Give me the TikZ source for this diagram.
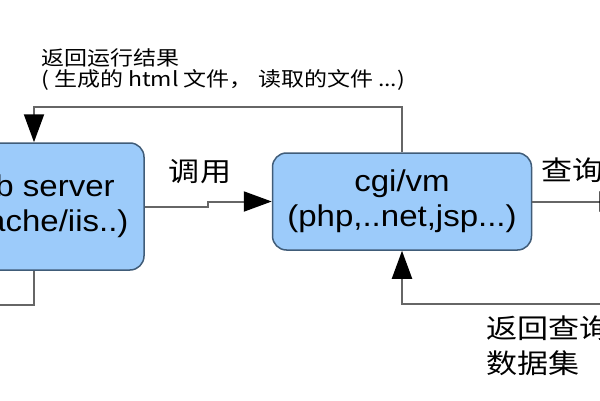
\documentclass[tikz,border=0pt]{standalone}
\usepackage{fontspec}
\setmainfont{Liberation Sans}[FakeStretch=1.1]
\newfontfamily\cjk{Noto Sans CJK SC}[FakeStretch=1.15]
\usetikzlibrary{arrows.meta, positioning, calc}

\definecolor{boxfill}{HTML}{9CCBFA}
\definecolor{boxline}{HTML}{405C78}
\definecolor{lineclr}{HTML}{666666}

\begin{document}
\begin{tikzpicture}[x=1pt,y=1pt,>={Triangle[length=28pt,width=20pt,color=black]},
  block/.style={draw=boxline,line width=1.5pt,fill=boxfill,rounded corners=14pt,align=center,inner sep=0pt,font=\fontsize{30}{35}\selectfont},
  flow/.style={draw=lineclr,line width=2pt,->},
  lbl/.style={font=\cjk\fontsize{27}{35}\selectfont,align=left,inner sep=0pt}]
  \useasboundingbox (0,0) rectangle (600,400);
  \clip (0,0) rectangle (600,400);

  \node[block,minimum width=220pt,minimum height=127pt] (web) at (34,193.5) {web server\\(apache/iis..)};
  \node[block,minimum width=259pt,minimum height=97pt,right=127pt of web,yshift=5pt] (cgi) {cgi/vm\\(php,..net,jsp...)};
  \coordinate[right=95pt of cgi.east] (db);
  \coordinate (dbret) at (625,96);
  \coordinate (client) at (-45,95);

  % calls
  \draw[flow] (web.east) -| ($(web.east)!.5!(cgi.west)$) |- (cgi.west);
  \node[lbl] (calllbl) at (200,228) {调用};
  \draw[flow] (cgi.east) -- (db);
  \node[lbl,anchor=west] (querylbl) at (541,230) {查询};

  % results back
  \draw[flow] (dbret) -| (cgi.south);
  \node[lbl,anchor=north west] (retlbl) at (486,84) {返回查询\\数据集};
  \draw[flow] (cgi.north) -- ++(0,45) -| (web.north);
  \node[lbl,font=\cjk\fontsize{20}{21.5}\selectfont,anchor=north west] (runlbl) at (41,352) {返回运行结果\\( 生成的 html 文件，\ 读取的文件 ...)};
  \draw[flow] (web.south) |- (client);
\end{tikzpicture}
\end{document}
